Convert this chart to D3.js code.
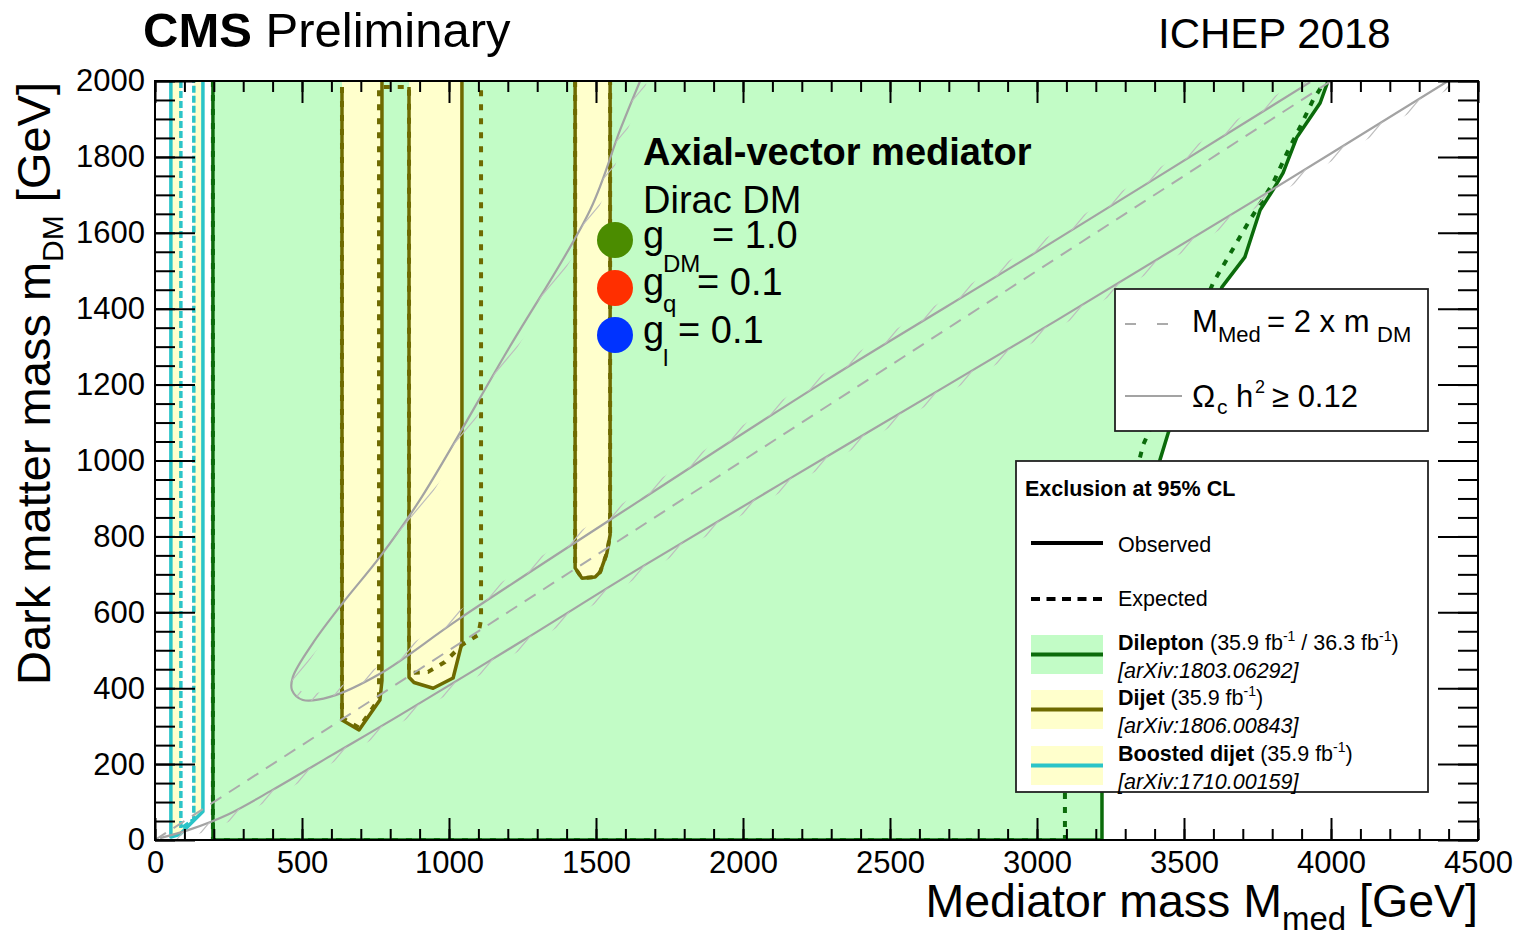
<!DOCTYPE html>
<html>
<head>
<meta charset="utf-8">
<script src="https://cdn.jsdelivr.net/npm/d3@7"></script>
<style>
  body { margin: 0; background: #fff; }
  svg { display: block; }
  text { font-family: "Liberation Sans", Arial, Helvetica, sans-serif; fill: #000; }
</style>
</head>
<body>
<svg id="chart" width="1518" height="937"></svg>
<script>
// ---- axis ticks ----
const xTickValues = [0, 500, 1000, 1500, 2000, 2500, 3000, 3500, 4000, 4500];
const yTickValues = [0, 200, 400, 600, 800, 1000, 1200, 1400, 1600, 1800, 2000];

// ---- exclusion contours, [M_med, m_DM] in GeV ----
const dileptonObs = [[197,2000],[197,0],[3221,0],[3221,124],[3240,300],[3330,700],[3418,1001],[3446,1072],
  [3540,1270],[3629,1457],[3707,1536],[3759,1660],[3803,1713],[3837,1758],[3884,1852],[3963,1942],[3990,2000]];
const dileptonExp = [[197,2000],[197,0],[3095,0],[3095,124],[3130,300],[3250,700],[3361,1041],[3480,1250],
  [3599,1468],[3718,1626],[3803,1731],[3850,1810],[3895,1879],[3939,1950],[3980,2000]];

const dijetObsA = [[636,1984],[636,316],[694,290],[765,369],[772,420],[772,2000]];
const dijetObsB = [[864,1984],[864,429],[881,415],[946,400],[1014,427],[1044,519],[1044,2000]];
const dijetObsC = [[1429,2000],[1429,717],[1452,690],[1497,693],[1514,706],[1537,756],[1548,804],[1548,2000]];
const dijetExpAB = [[636,1984],[636,322],[694,296],[762,372],[762,1984],[864,1984],[864,440],[929,443],
  [986,469],[1044,514],[1099,540],[1109,580],[1109,1984]];
const dijetExpC = [[1429,2000],[1429,717],[1452,690],[1497,693],[1514,706],[1537,756],[1548,804],[1548,2000]];

const boostedObs = [[54,2000],[54,8],[85,15],[163,75],[163,2000]];
const boostedExp = [[88,2000],[88,30],[132,55],[132,2000]];

// ---- reference curves ----
const diagonal = [[0,0],[4000,2000]];   // M_med = 2 m_DM
const relicLower = [[17,5],[120,28],[250,68],[400,132],[600,223],[833,329],[1250,525],[1650,717],
  [2350,1040],[3068,1370],[3750,1690],[4398,2000]];
const relicLoop = [[1650,2000],[1582,1871],[1480,1660],[1190,1278],[901,896],[765,746],[639,625],[537,519],
  [469,430],[466,395],[503,369],[595,377],[765,438],[1037,584],[1650,895],[2272,1206],[3010,1555],[3929,1997]];

// ---- colours ----
const C = {
  dilFill: "#c2fcc6", dilLine: "#0b6b0b",
  djFill: "#ffffcc", djLine: "#6e6a00",
  bstLine: "#2bc4c8",
  grey: "#a3a3a3", hatch: "#bdbdbd"
};

const W = 1518, H = 937;
const L = 155, R = 1478, T = 81, B = 840;
const svg = d3.select("#chart");
const x = d3.scaleLinear().domain([0, 4500]).range([L, R]);
const y = d3.scaleLinear().domain([0, 2000]).range([B, T]);
const line = d3.line().x(d => x(d[0])).y(d => y(d[1]));
const smooth = d3.line().x(d => x(d[0])).y(d => y(d[1])).curve(d3.curveCatmullRom.alpha(0.5));

svg.append("rect").attr("width", W).attr("height", H).attr("fill", "#fff");

const defs = svg.append("defs");
defs.append("clipPath").attr("id", "plotArea")
  .append("rect").attr("x", L).attr("y", T).attr("width", R - L).attr("height", B - T);

const plot = svg.append("g").attr("clip-path", "url(#plotArea)");

// filled regions
plot.append("path").datum(dileptonObs.concat([[197,2000]]))
  .attr("d", line).attr("fill", C.dilFill).attr("stroke", "none");
plot.append("path").datum(boostedObs).attr("d", line).attr("fill", C.djFill);
plot.append("path").datum(boostedExp).attr("d", line).attr("fill", "#fff");
[dijetObsA, dijetObsB, dijetObsC].forEach(r => {
  plot.append("path").datum(r.concat([[r[0][0], 2000]])).attr("d", line).attr("fill", C.djFill);
});

// contour lines
function contour(data, color, width, dash) {
  const p = plot.append("path").datum(data).attr("d", line)
    .attr("fill", "none").attr("stroke", color).attr("stroke-width", width)
    .attr("stroke-linejoin", "round");
  if (dash) p.attr("stroke-dasharray", dash);
  return p;
}
contour(boostedObs, C.bstLine, 3.5);
contour(boostedExp, C.bstLine, 3.5, "7,3");
[dijetObsA, dijetObsB, dijetObsC].forEach(r => contour(r, C.djLine, 3.5));
contour(dijetExpAB, C.djLine, 4, "6,8");
contour(dijetExpC, C.djLine, 4, "6,8");
contour(dileptonObs, C.dilLine, 3.5);
contour(dileptonExp, C.dilLine, 4, "6,8");

// M_med = 2 m_DM
plot.append("path").datum(diagonal).attr("d", line).attr("fill", "none")
  .attr("stroke", "#ababab").attr("stroke-width", 2).attr("stroke-dasharray", "13,9");

// relic density curves with hatching on the overabundant side
function relic(data, side, id) {
  const p = plot.append("path").datum(data).attr("d", smooth)
    .attr("fill", "none").attr("stroke", C.grey).attr("stroke-width", 2.2);
  const node = p.node();
  const len = node.getTotalLength();
  const pts = [];
  for (let s = 0; s <= len; s += 2) { const q = node.getPointAtLength(s); pts.push([q.x, q.y]); }
  const w = 7;
  const off = pts.map((q, i) => {
    const a = pts[Math.max(0, i - 3)], b = pts[Math.min(pts.length - 1, i + 3)];
    let dx = b[0] - a[0], dy = b[1] - a[1];
    const n = Math.hypot(dx, dy) || 1; dx /= n; dy /= n;
    return [q[0] + side * dy * w, q[1] - side * dx * w];
  });
  const band = "M" + pts.map(q => q.join(",")).join("L") + "L" +
    off.slice().reverse().map(q => q.join(",")).join("L") + "Z";
  defs.append("clipPath").attr("id", id).append("path").attr("d", band);
  const g = plot.append("g").attr("clip-path", `url(#${id})`);
  const ang = 50 * Math.PI / 180, sp = 14 / Math.sin(ang);
  for (let x0 = L - 760; x0 < R + 40; x0 += sp) {
    g.append("line").attr("x1", x0).attr("y1", B + 60)
      .attr("x2", x0 + 1100 * Math.cos(ang)).attr("y2", B + 60 - 1100 * Math.sin(ang))
      .attr("stroke", C.hatch).attr("stroke-width", 1.2);
  }
}
relic(relicLoop, 1, "hatchLoop");
relic(relicLower, -1, "hatchLower");

// ---- axes (ticks inside on all four sides) ----
function styleAxis(g) {
  g.select(".domain").remove();
  g.selectAll("line").attr("stroke", "#000").attr("stroke-width", 2);
  g.selectAll("text").attr("font-family", "'Liberation Sans', Arial, sans-serif").style("font-size", "31px").attr("fill", "#000");
}
const xMinor = d3.range(0, 4501, 100);
const yMinor = d3.range(0, 2001, 50);
svg.append("g").attr("transform", `translate(0,${B})`)
  .call(d3.axisBottom(x).tickValues(xMinor).tickSize(-11).tickFormat("")).call(styleAxis);
svg.append("g").attr("transform", `translate(0,${B})`)
  .call(d3.axisBottom(x).tickValues(xTickValues).tickSize(-22).tickPadding(11).tickFormat(d3.format("d"))).call(styleAxis);
svg.append("g").attr("transform", `translate(0,${T})`)
  .call(d3.axisTop(x).tickValues(xMinor).tickSize(-11).tickFormat("")).call(styleAxis);
svg.append("g").attr("transform", `translate(0,${T})`)
  .call(d3.axisTop(x).tickValues(xTickValues).tickSize(-22).tickFormat("")).call(styleAxis);
svg.append("g").attr("transform", `translate(${L},0)`)
  .call(d3.axisLeft(y).tickValues(yMinor).tickSize(-20).tickFormat("")).call(styleAxis);
svg.append("g").attr("transform", `translate(${L},0)`)
  .call(d3.axisLeft(y).tickValues(yTickValues).tickSize(-40).tickPadding(10).tickFormat(d3.format("d"))).call(styleAxis);
svg.append("g").attr("transform", `translate(${R},0)`)
  .call(d3.axisRight(y).tickValues(yMinor).tickSize(-20).tickFormat("")).call(styleAxis);
svg.append("g").attr("transform", `translate(${R},0)`)
  .call(d3.axisRight(y).tickValues(yTickValues).tickSize(-40).tickFormat("")).call(styleAxis);

svg.append("rect").attr("x", L).attr("y", T).attr("width", R - L).attr("height", B - T)
  .attr("fill", "none").attr("stroke", "#000").attr("stroke-width", 2);

// ---- axis titles ----
const yt = svg.append("text").attr("transform", "translate(50,82) rotate(-90)")
  .attr("text-anchor", "end").style("font-size", "47px");
yt.append("tspan").text("Dark matter mass m");
yt.append("tspan").attr("dy", 13).style("font-size", "30px").text("DM");
yt.append("tspan").attr("dy", -13).text(" [GeV]");

const xt = svg.append("text").attr("x", R).attr("y", 917)
  .attr("text-anchor", "end").style("font-size", "46.5px");
xt.append("tspan").text("Mediator mass M");
xt.append("tspan").attr("dy", 13).style("font-size", "33px").text("med");
xt.append("tspan").attr("dy", -13).text(" [GeV]");

// ---- header ----
const hd = svg.append("text").attr("x", 143).attr("y", 47).style("font-size", "49px");
hd.append("tspan").style("font-weight", "bold").text("CMS");
hd.append("tspan").text(" Preliminary");
svg.append("text").attr("x", 1158).attr("y", 48).style("font-size", "42px").text("ICHEP 2018");

// ---- model annotation ----
svg.append("text").attr("x", 643).attr("y", 165).style("font-size", "38px")
  .style("font-weight", "bold").text("Axial-vector mediator");
svg.append("text").attr("x", 643).attr("y", 213).style("font-size", "38px").text("Dirac DM");
const couplings = [
  { sub: "DM", val: "= 1.0", base: 248, subBase: 272, valX: 712, color: "#4b8c00", cy: 240 },
  { sub: "q",  val: "= 0.1", base: 295, subBase: 312, valX: 697, color: "#ff2f00", cy: 288 },
  { sub: "l",  val: "= 0.1", base: 343, subBase: 366, valX: 678, color: "#0033ff", cy: 335 }
];
couplings.forEach(c => {
  svg.append("circle").attr("cx", 615).attr("cy", c.cy).attr("r", 18).attr("fill", c.color);
  svg.append("text").attr("x", 643).attr("y", c.base).style("font-size", "38px").text("g");
  svg.append("text").attr("x", 663).attr("y", c.subBase).style("font-size", "24px").text(c.sub);
  svg.append("text").attr("x", c.valX).attr("y", c.base).style("font-size", "38px").text(c.val);
});

// ---- legend: reference curves ----
const lg1 = svg.append("g");
lg1.append("rect").attr("x", 1115).attr("y", 289).attr("width", 313).attr("height", 142)
  .attr("fill", "#fff").attr("stroke", "#222").attr("stroke-width", 1.8);
lg1.append("line").attr("x1", 1125).attr("x2", 1170).attr("y1", 324).attr("y2", 324)
  .attr("stroke", "#ababab").attr("stroke-width", 2).attr("stroke-dasharray", "11,21");
lg1.append("line").attr("x1", 1125).attr("x2", 1182).attr("y1", 396).attr("y2", 396)
  .attr("stroke", C.grey).attr("stroke-width", 2);
lg1.append("text").attr("x", 1192).attr("y", 332).style("font-size", "31px").text("M");
lg1.append("text").attr("x", 1218).attr("y", 342).style("font-size", "22px").text("Med");
lg1.append("text").attr("x", 1267).attr("y", 332).style("font-size", "31px").text("= 2 x m");
lg1.append("text").attr("x", 1377).attr("y", 342).style("font-size", "22px").text("DM");
lg1.append("text").attr("x", 1192).attr("y", 407).style("font-size", "31px").text("Ω");
lg1.append("text").attr("x", 1217).attr("y", 414).style("font-size", "21px").text("c");
lg1.append("text").attr("x", 1236).attr("y", 407).style("font-size", "31px").text("h");
lg1.append("text").attr("x", 1255).attr("y", 393).style("font-size", "18px").text("2");
lg1.append("text").attr("x", 1272).attr("y", 407).style("font-size", "31px").text("≥ 0.12");

// ---- legend: exclusions ----
const lg2 = svg.append("g");
lg2.append("rect").attr("x", 1016).attr("y", 461).attr("width", 412).attr("height", 331)
  .attr("fill", "#fff").attr("stroke", "#222").attr("stroke-width", 1.8);
const fs = "21.5px";
lg2.append("text").attr("x", 1025).attr("y", 496).style("font-size", fs)
  .style("font-weight", "bold").text("Exclusion at 95% CL");
lg2.append("line").attr("x1", 1031).attr("x2", 1103).attr("y1", 543).attr("y2", 543)
  .attr("stroke", "#000").attr("stroke-width", 4);
lg2.append("text").attr("x", 1118).attr("y", 552).style("font-size", fs).text("Observed");
lg2.append("line").attr("x1", 1031).attr("x2", 1103).attr("y1", 599).attr("y2", 599)
  .attr("stroke", "#000").attr("stroke-width", 4).attr("stroke-dasharray", "9,6.5");
lg2.append("text").attr("x", 1118).attr("y", 606).style("font-size", fs).text("Expected");

const entries = [
  { top: 635, fill: C.dilFill, stroke: C.dilLine, name: "Dilepton", lumi: [["(35.9 fb", "-1"], [" / 36.3 fb", "-1"], [")"]], ref: "[arXiv:1803.06292]", base: 650 },
  { top: 690, fill: C.djFill, stroke: C.djLine, name: "Dijet", lumi: [["(35.9 fb", "-1"], [")"]], ref: "[arXiv:1806.00843]", base: 705 },
  { top: 746, fill: C.djFill, stroke: C.bstLine, name: "Boosted dijet", lumi: [["(35.9 fb", "-1"], [")"]], ref: "[arXiv:1710.00159]", base: 761 }
];
entries.forEach(e => {
  lg2.append("rect").attr("x", 1031).attr("y", e.top).attr("width", 72).attr("height", 39).attr("fill", e.fill);
  lg2.append("line").attr("x1", 1031).attr("x2", 1103).attr("y1", e.top + 19.5).attr("y2", e.top + 19.5)
    .attr("stroke", e.stroke).attr("stroke-width", 4);
  const t = lg2.append("text").attr("x", 1118).attr("y", e.base).style("font-size", fs);
  t.append("tspan").style("font-weight", "bold").text(e.name + " ");
  let lift = 0;
  e.lumi.forEach(part => {
    const ts = t.append("tspan").text(part[0]);
    if (lift) { ts.attr("dy", lift); lift = 0; }
    if (part[1]) {
      t.append("tspan").attr("dy", -9).style("font-size", "14px").text(part[1]);
      lift = 9;
    }
  });
  lg2.append("text").attr("x", 1118).attr("y", e.base + 28).style("font-size", fs)
    .style("font-style", "italic").text(e.ref);
});
</script>
</body>
</html>
